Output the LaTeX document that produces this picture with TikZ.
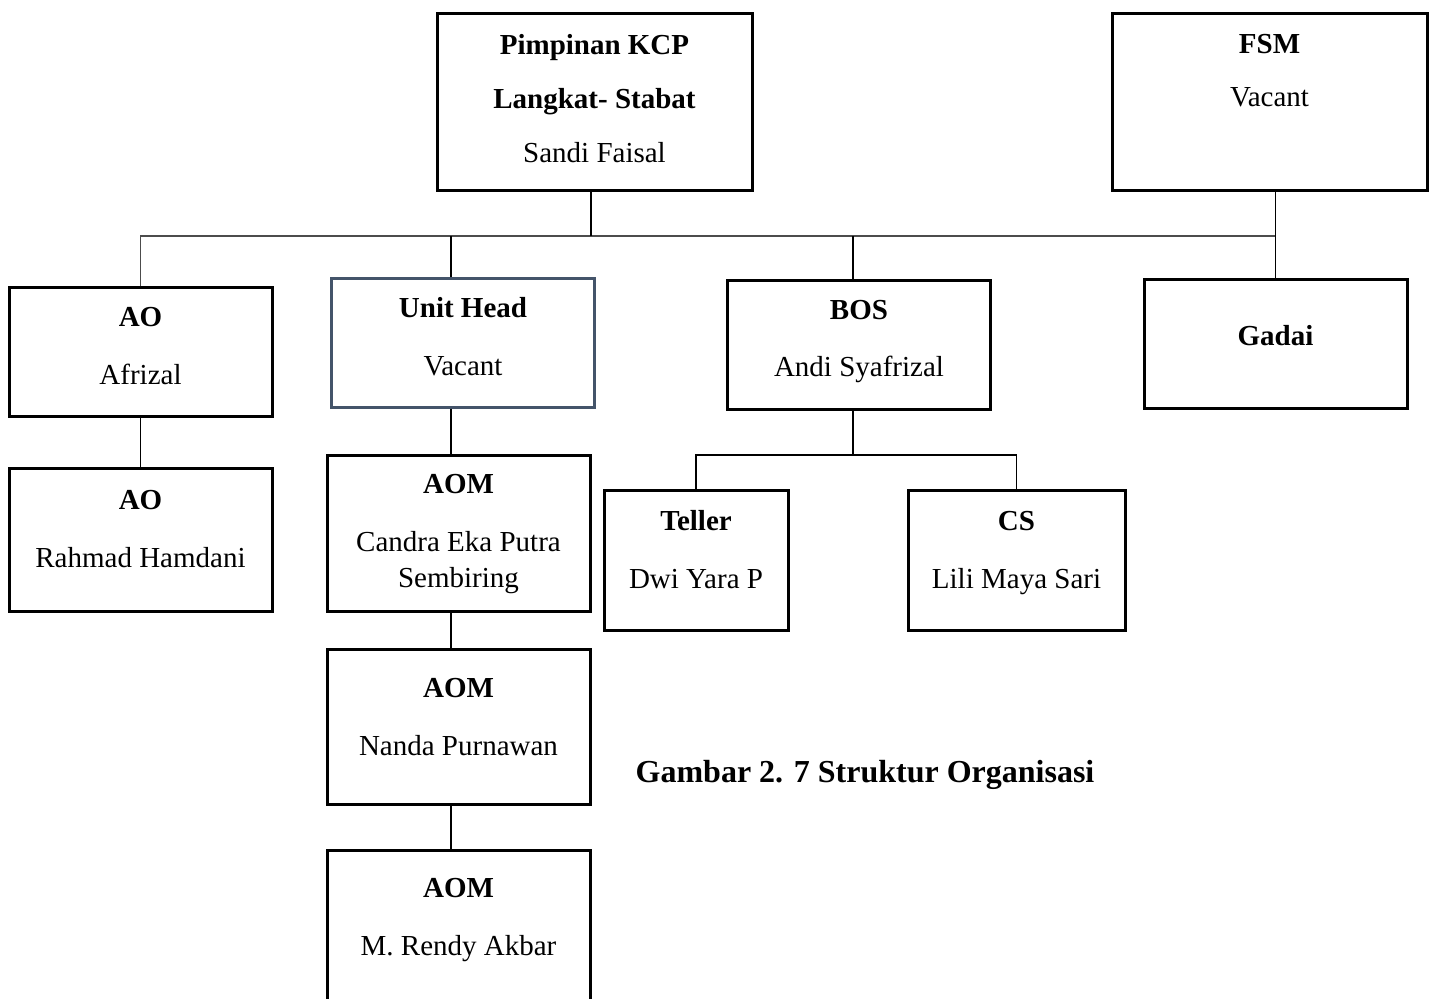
\documentclass[tikz,border=0pt]{standalone}
\usepackage{fontspec}
\setmainfont{Liberation Serif}
\definecolor{slate}{RGB}{68,84,106}
\tikzset{
  box/.style={draw, line width=1.5pt, inner sep=0pt},
  wide/.style={minimum width=131.5pt, minimum height=64.5pt},
  txt/.style={align=center, anchor=base, inner sep=0pt, font=\fontsize{14.5pt}{18pt}\selectfont},
}
\begin{document}
\begin{tikzpicture}[x=0.5pt, y=-0.5pt]
  \clip (0,0) rectangle (1429,999);
  % boxes
  \node[box, minimum width=157.5pt, minimum height=88.5pt] (kcp) at (594.5,102.5) {};
  \node[box, minimum width=157.5pt, minimum height=88.5pt] (fsm) at (1269.5,102.5) {};
  \node[box, wide] (ao1) at (140.5,352.5) {};
  \node[box, wide, draw=slate, line width=1.1pt] (uh) at (463,343) {};
  \node[box, wide] (bos) at (859,345.5) {};
  \node[box, wide] (gadai) at (1275.5,344.5) {};
  \node[box, wide, minimum height=71pt] (ao2) at (140.5,540) {};
  \node[box, wide, minimum height=77.5pt] (aom1) at (458.5,533.5) {};
  \node[box, wide, minimum height=77.5pt] (aom2) at (458.5,726.5) {};
  \node[box, wide, minimum height=80pt] (aom3) at (458.5,930) {};
  \node[box, minimum width=92pt, minimum height=69.5pt] (teller) at (696,560.5) {};
  \node[box, minimum width=108.5pt, minimum height=69.5pt] (cs) at (1016.5,560.5) {};

  % texts (anchored at the last line)
  \node[txt] (kcp-t) at (594.5,162.5) {\textbf{Pimpinan KCP}\\[9pt]\textbf{Langkat- Stabat}\\[9pt]Sandi Faisal};
  \node[txt] (fsm-t) at (1269.5,106.5) {\textbf{FSM}\\[8.5pt]Vacant};
  \node[txt] (ao1-t) at (140.5,384.5) {\textbf{AO}\\[11pt]Afrizal};
  \node[txt] (uh-t) at (463,375.5) {\textbf{Unit Head}\\[11pt]Vacant};
  \node[txt] (bos-t) at (859,376.5) {\textbf{BOS}\\[10.5pt]Andi Syafrizal};
  \node[txt] (gadai-t) at (1275.5,345.5) {\textbf{Gadai}};
  \node[txt] (ao2-t) at (140.5,567.5) {\textbf{AO}\\[11pt]Rahmad Hamdani};
  \node[txt] (aom1-t) at (458.5,587.5) {\textbf{AOM}\\[11pt]Candra Eka Putra\\Sembiring};
  \node[txt] (aom2-t) at (458.5,755.5) {\textbf{AOM}\\[11pt]Nanda Purnawan};
  \node[txt] (aom3-t) at (458.5,955.5) {\textbf{AOM}\\[11pt]M. Rendy Akbar};
  \node[txt] (teller-t) at (696,588.5) {\textbf{Teller}\\[11pt]Dwi Yara P};
  \node[txt] (cs-t) at (1016.5,588.5) {\textbf{CS}\\[11pt]Lili Maya Sari};
  \node[anchor=base, inner sep=0pt, font=\fontsize{16pt}{19pt}\selectfont\bfseries] (caption) at (865,782.5) {Gambar 2. 7 Struktur Organisasi};

  % connectors
  \coordinate (bus) at (0,236);
  \coordinate (col) at (451,0);
  \coordinate (split) at (853,455);
  \begin{scope}[line width=0.6pt]
    \draw[black!70] (ao1.north) |- (bus -| gadai.north);
    \draw (kcp.south -| 591,0) to (bus -| 591,0);
    \draw (fsm.south -| gadai.north) to (gadai.north);
    \draw (uh.north -| col) to (bus -| col);
    \draw (bos.north -| split) to (bus -| split);
    \draw (ao1.south) to (ao2.north);
    \draw (uh.south -| col) to (aom1.north -| col);
    \draw (aom1.south -| col) to (aom2.north -| col);
    \draw (aom2.south -| col) to (aom3.north -| col);
    \draw (bos.south -| split) to (split);
    \draw (teller.north) |- (split) -| (cs.north);
  \end{scope}
\end{tikzpicture}
\end{document}
